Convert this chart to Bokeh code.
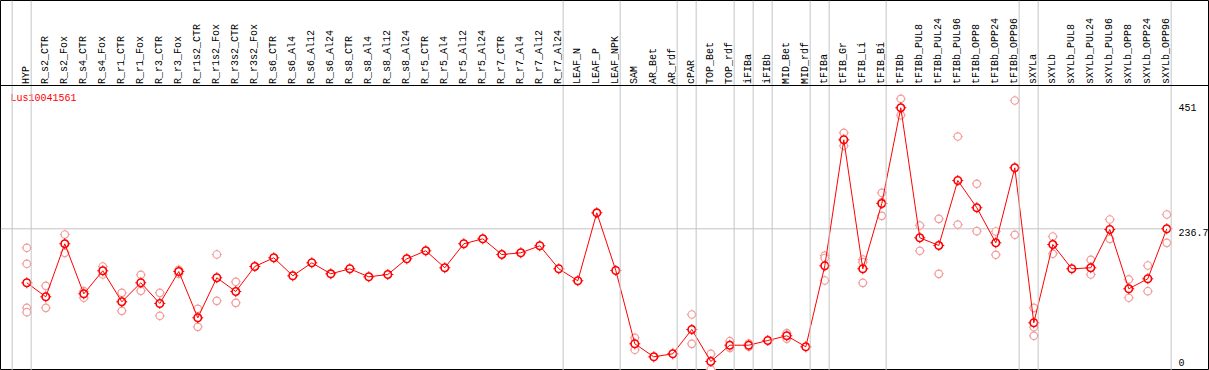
import numpy as np
from bokeh.plotting import figure
from bokeh.models import Range1d, Span, ColumnDataSource
from bokeh.core.properties import value
from bokeh.embed import file_html
from bokeh.resources import INLINE

# ---------------- data ----------------
title = "Lus10041561"

categories = [
    "HYP", "R_s2_CTR", "R_s2_Fox", "R_s4_CTR", "R_s4_Fox", "R_r1_CTR", "R_r1_Fox",
    "R_r3_CTR", "R_r3_Fox", "R_r1s2_CTR", "R_r1s2_Fox", "R_r3s2_CTR", "R_r3s2_Fox",
    "R_s6_CTR", "R_s6_Al4", "R_s6_Al12", "R_s6_Al24", "R_s8_CTR", "R_s8_Al4",
    "R_s8_Al12", "R_s8_Al24", "R_r5_CTR", "R_r5_Al4", "R_r5_Al12", "R_r5_Al24",
    "R_r7_CTR", "R_r7_Al4", "R_r7_Al12", "R_r7_Al24", "LEAF_N", "LEAF_P", "LEAF_NPK",
    "SAM", "AR_Bet", "AR_rdf", "cPAR", "TOP_Bet", "TOP_rdf", "iFIBa", "iFIBb",
    "MID_Bet", "MID_rdf", "tFIBa", "tFIB_Gr", "tFIB_Li", "tFIB_Bi", "tFIBb",
    "tFIBb_PUL8", "tFIBb_PUL24", "tFIBb_PUL96", "tFIBb_OPP8", "tFIBb_OPP24",
    "tFIBb_OPP96", "sXYLa", "sXYLb", "sXYLb_PUL8", "sXYLb_PUL24", "sXYLb_PUL96",
    "sXYLb_OPP8", "sXYLb_OPP24", "sXYLb_OPP96",
]

means = [
    141.1, 116.3, 210.2, 121.6, 162.4, 107.5, 141.1,
    104.5, 161.1, 79.1, 150.0, 125.7, 170.0,
    185.4, 153.5, 176.5, 157.0, 165.9, 151.7,
    155.8, 183.6, 197.8, 167.7, 210.2, 219.0,
    191.2, 194.2, 206.6, 165.9, 144.7, 265.0, 162.9,
    33.1, 10.1, 15.4, 58.4, 1.8, 30.6, 30.6, 39.0,
    47.3, 27.8, 171.2, 394.3, 165.9, 281.5, 451.0,
    220.8, 207.2, 322.2, 274.1, 211.9,
    344.7, 70.3, 208.9, 165.9, 167.7, 235.5,
    130.5, 148.2, 236.7,
]

replicates = [
    [203.1, 174.8, 96.8, 89.1], [135.8, 96.8], [226.6, 194.2], [126.2, 114.6],
    [170.0, 155.8], [123.4, 91.5], [155.3, 126.9],
    [123.4, 82.7], [164.1, 157.0], [95.1, 63.2], [191.2, 109.2], [142.9, 105.7], [],
    [], [], [], [], [], [],
    [], [], [], [], [], [],
    [], [], [], [], [], [], [],
    [43.7, 22.5], [], [], [85.0, 33.1], [15.4, -12.4], [37.7, 26.0], [33.5, 28.0], [],
    [51.9, 42.0], [], [189.4, 185.0, 145.2], [406.7, 383.7], [182.4, 177.6, 141.1],
    [300.5, 283.8, 259.7], [466.9, 437.9],
    [242.6, 197.8], [254.4, 157.0], [400.1, 244.3], [316.4, 232.5], [231.9, 190.7],
    [463.9, 226.1], [96.8, 62.5, 47.3], [223.1, 192.5], [], [181.8, 155.8], [253.2, 219.0],
    [147.0, 114.6], [171.7, 126.2], [262.0, 211.9],
]

group_sizes = [1, 28, 3, 3, 1, 2, 1, 1, 2, 1, 3, 7, 1, 7]

y_tick_values = [451, 236.7, 0]
y_tick_labels = ["451", "236.7", "0"]
grid_values = [236.7]

# ---------------- layout (pixels) ----------------
PAGE_OFF = 0
FIG_W, FIG_H = 1209, 370
X0_PAGE, STEP = 26.3, 19.0          # page x of first category, px per category
Y0_PAGE, PXU = 362.0, 0.5648        # page y of value 0, px per unit
HEADER_PAGE_Y = 85.0
SEP_OFF = 0.23                      # separator offset after a category (in category units)

x_start = (PAGE_OFF - X0_PAGE) / STEP
x_end = x_start + FIG_W / STEP
y_start = (Y0_PAGE - (PAGE_OFF + FIG_H)) / PXU
y_end = y_start + FIG_H / PXU
header_val = (Y0_PAGE - HEADER_PAGE_Y) / PXU

FONT = value("Liberation Mono")
RED = "#ff0000"
PINK = "#f29c9c"
GRAY = "#c4c4c4"

p = figure(width=FIG_W, height=FIG_H, output_backend="svg", toolbar_location=None,
           x_range=Range1d(x_start, x_end), y_range=Range1d(y_start, y_end),
           min_border=0, background_fill_color="white", border_fill_color="white",
           outline_line_color="black", outline_line_width=1)
p.xaxis.visible = False
p.yaxis.visible = False
p.xgrid.visible = False
p.ygrid.visible = False

idx = np.arange(len(categories))

# group separators
ends = np.cumsum(group_sizes) - 1
sep_positions = [-1 + SEP_OFF] + [e + SEP_OFF for e in ends]
for s in sep_positions:
    p.add_layout(Span(location=s, dimension="height", line_color=GRAY, line_width=1))

# horizontal grid line(s) in data area
for g in grid_values:
    p.segment(x0=[x_start], y0=[g], x1=[sep_positions[-1]], y1=[g],
              line_color=GRAY, line_width=1)

# header separator line
p.add_layout(Span(location=header_val, dimension="width", line_color="black", line_width=1))

# replicates
rx, ry = [], []
for i, reps in enumerate(replicates):
    for r in reps:
        rx.append(i)
        ry.append(r)
rsrc = ColumnDataSource(dict(x=rx, y=ry))
p.scatter("x", "y", source=rsrc, marker="cross", size=10, line_color=PINK, line_width=1)
p.scatter("x", "y", source=rsrc, marker="circle", size=7.5, fill_color="white",
          line_color=PINK, line_width=1.2)

# means
msrc = ColumnDataSource(dict(x=idx, y=means))
p.scatter("x", "y", source=msrc, marker="cross", size=11, line_color=RED, line_width=1)
p.scatter("x", "y", source=msrc, marker="circle", size=7.5, fill_color="white", line_color=None)
p.line("x", "y", source=msrc, line_color=RED, line_width=1)
p.scatter("x", "y", source=msrc, marker="circle", size=7.5, fill_color=None,
          line_color=RED, line_width=1.6)

# header category labels (vertical)
p.text(x=idx, y=[header_val] * len(idx), text=categories, angle=np.pi / 2,
       text_align="left", text_baseline="middle", y_offset=-1.5, x_offset=-0.5,
       text_font=FONT, text_font_size="10px", text_color="black")

# title
p.text(x=[x_start], y=[(Y0_PAGE - 97.5) / PXU], text=[title], x_offset=10,
       text_align="left", text_baseline="middle",
       text_font=FONT, text_font_size="10px", text_color=RED)

# value labels on the right
p.text(x=[len(categories) - 1] * len(y_tick_values), y=y_tick_values, text=y_tick_labels,
       x_offset=11.7, y_offset=[0, 4, 0], text_align="left", text_baseline="middle",
       text_font=FONT, text_font_size="10px", text_color="black")

open("out.html", "w").write(file_html(p, INLINE))
